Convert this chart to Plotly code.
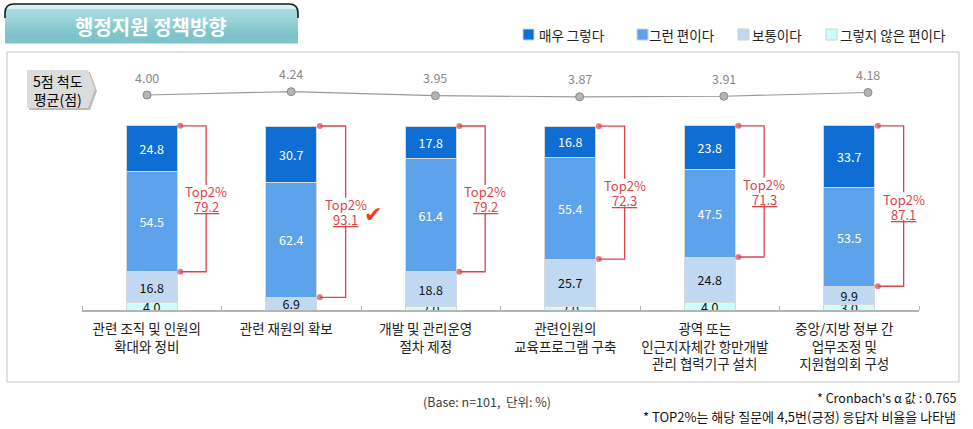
import plotly.graph_objects as go

# ---------------- data ----------------
categories = ["관련 조직 및 인원의<br>확대와 정비", "관련 재원의 확보", "개발 및 관리운영<br>절차 제정",
              "관련인원의<br>교육프로그램 구축", "광역 또는<br>인근지자체간 항만개발<br>관리 협력기구 설치",
              "중앙/지방 정부 간<br>업무조정 및<br>지원협의회 구성"]
series_names = ["매우 그렇다", "그런 편이다", "보통이다", "그렇지 않은 편이다"]
very_yes = [24.8, 30.7, 17.8, 16.8, 23.8, 33.7]
yes = [54.5, 62.4, 61.4, 55.4, 47.5, 53.5]
neutral = [16.8, 6.9, 18.8, 25.7, 24.8, 9.9]
no = [4.0, None, 2.0, 2.0, 4.0, 3.0]
top2 = [79.2, 93.1, 79.2, 72.3, 71.3, 87.1]
means = [4.00, 4.24, 3.95, 3.87, 3.91, 4.18]
title_text = "행정지원 정책방향"
scale_label = "5점 척도<br>평균(점)"
base_note = "(Base: n=101,  단위: %)"
note1 = "* Cronbach's α 값 : 0.765"
note2 = "* TOP2%는 해당 질문에 4,5번(긍정) 응답자 비율을 나타냄"

# ---------------- styles ----------------
FONT = "Noto Sans CJK KR"
colors = ["#0e6ed3", "#5ca3eb", "#c0d8f2", "#ccfefe"]
text_colors = ["white", "white", "#111111", "#111111"]
RED = "#d9454d"
W, H = 973, 429
L, R, T, B = 82, 54, 52, 119
PW, PH = W - L - R, H - T - B


def px(x):
    return (x - L) / PW


def py(y):
    return (H - B - y) / PH


def note(x, y, text, size, color, xanchor="center", bold=False):
    return dict(x=px(x), y=py(y), xref="paper", yref="paper", xanchor=xanchor, yanchor="middle",
                text=f"<b>{text}</b>" if bold else text, showarrow=False,
                font=dict(size=size, color=color, family=FONT))


xs = list(range(len(categories)))
fig = go.Figure()

# stacked bars (bottom to top)
stack = [(series_names[3], no, 3), (series_names[2], neutral, 2),
         (series_names[1], yes, 1), (series_names[0], very_yes, 0)]
for name, vals, ci in stack:
    fig.add_trace(go.Bar(
        x=xs, y=vals, name=name, width=0.366,
        marker=dict(color=colors[ci], line=dict(color="#d8d8d8", width=1)),
        text=[None if v is None else f"{v:.1f}" for v in vals],
        textposition="inside", insidetextanchor="middle", textangle=0,
        insidetextfont=dict(color=text_colors[ci], size=12.5, family=FONT),
        showlegend=False, hoverinfo="skip"))

# Top2 brackets
totals = [sum(v for v in col if v is not None) for col in zip(very_yes, yes, neutral, no)]
shapes = []
annotations = []
for i in xs:
    top = totals[i]
    bot = top - (very_yes[i] + yes[i])
    mid = (top + bot) / 2
    fig.add_trace(go.Scatter(
        x=[i + 0.205, i + 0.39, i + 0.39, i + 0.205], y=[top, top, bot, bot],
        mode="lines+markers", line=dict(color=RED, width=1.3),
        marker=dict(color=RED, size=[6, 0, 0, 6], line=dict(width=0)),
        showlegend=False, hoverinfo="skip"))
    # white gap behind the Top2 label
    shapes.append(dict(type="rect", xref="x", yref="y", x0=i + 0.37, x1=i + 0.41,
                       y0=mid - 7.5, y1=mid + 7.5, fillcolor="white", line=dict(width=0)))
    annotations.append(dict(x=i + 0.39, y=mid, xref="x", yref="y", yshift=7, yanchor="middle",
                            text="Top2%", showarrow=False,
                            font=dict(size=13, color=RED, family=FONT)))
    annotations.append(dict(x=i + 0.39, y=mid, xref="x", yref="y", yshift=-8, yanchor="middle",
                            text=f"{top2[i]:.1f}", showarrow=False,
                            font=dict(size=13, color=RED, family=FONT, lineposition="under")))
    if top2[i] == max(top2):
        annotations.append(dict(x=i + 0.39, y=mid, xref="x", yref="y", xshift=27, yshift=-3,
                                text="✔", showarrow=False,
                                font=dict(size=22, color="#ff3a1a", family="DejaVu Sans")))

# mean line (separate overlay axes)
fig.add_trace(go.Scatter(
    x=xs, y=means, xaxis="x2", yaxis="y2", mode="lines+markers",
    line=dict(color="#9a9a9a", width=1.2),
    marker=dict(color="#b4b4b4", size=8, line=dict(color="#8a8a8a", width=1)),
    showlegend=False, hoverinfo="skip"))

for i, m in zip(xs, means):
    annotations.append(dict(x=i, y=m, xref="x2", yref="y2", yshift=18, text=f"{m:.2f}",
                            showarrow=False, font=dict(size=12.5, color="#8a8a8a", family=FONT)))

# title & labels
annotations.append(note(151, 26, title_text, 20, "white", bold=True))
annotations.append(note(58, 90, scale_label, 14, "#000000"))
annotations.append(note(421, 401, base_note, 12.5, "#404040", xanchor="left"))
annotations.append(note(958, 397, note1, 12.5, "#111111", xanchor="right"))
annotations.append(note(958, 416, note2, 13, "#111111", xanchor="right"))

# legend (manual)
legend_sq_x = [523, 637, 738, 826]
legend_tx_x = [537, 647, 750, 838]
for k in range(4):
    shapes.append(dict(type="rect", xref="paper", yref="paper",
                       x0=px(legend_sq_x[k]), x1=px(legend_sq_x[k] + 11), y0=py(40), y1=py(29),
                       fillcolor=colors[k], line=dict(color="#d0d0d0", width=1)))
    annotations.append(note(legend_tx_x[k], 35, series_names[k], 13.5, "#222222", xanchor="left"))

# panel border
shapes.append(dict(type="rect", xref="paper", yref="paper", x0=px(7), x1=px(959), y0=py(382), y1=py(52),
                   line=dict(color="#c4c4c4", width=1), fillcolor="rgba(0,0,0,0)", layer="below"))


# title bar gradient
def lerp(c1, c2, t):
    a = [int(c1[i:i + 2], 16) for i in (1, 3, 5)]
    b = [int(c2[i:i + 2], 16) for i in (1, 3, 5)]
    return "#" + "".join(f"{int(round(a[j] + (b[j] - a[j]) * t)):02x}" for j in range(3))


tb_x0, tb_x1, tb_y0, tb_y1 = 5, 298, 4, 43
rp = 9
path = (f"M {px(tb_x0)},{py(tb_y1)} L {px(tb_x0)},{py(tb_y0 + rp)} "
        f"Q {px(tb_x0)},{py(tb_y0)} {px(tb_x0 + rp)},{py(tb_y0)} "
        f"L {px(tb_x1 - rp)},{py(tb_y0)} Q {px(tb_x1)},{py(tb_y0)} {px(tb_x1)},{py(tb_y0 + rp)} "
        f"L {px(tb_x1)},{py(tb_y1)} Z")
shapes.append(dict(type="path", xref="paper", yref="paper", path=path, fillcolor="#d6f0f3",
                   line=dict(width=0), layer="below"))
nb = 14
y_start = tb_y0 + 5
band_h = (tb_y1 - y_start) / nb
for k in range(nb):
    t = k / (nb - 1)
    col = lerp("#aadde2", "#7cc3c9", min(1, t * 1.3))
    shapes.append(dict(type="rect", xref="paper", yref="paper",
                       x0=px(tb_x0 + (0 if k else 1)), x1=px(tb_x1 - (0 if k else 1)),
                       y0=py(y_start + (k + 1) * band_h + 0.5), y1=py(y_start + k * band_h),
                       fillcolor=col, line=dict(width=0), layer="below"))
edge = (f"M {px(tb_x0)},{py(tb_y0 + 14)} L {px(tb_x0)},{py(tb_y0 + rp)} "
        f"Q {px(tb_x0)},{py(tb_y0)} {px(tb_x0 + rp)},{py(tb_y0)} "
        f"L {px(tb_x1 - rp)},{py(tb_y0)} Q {px(tb_x1)},{py(tb_y0)} {px(tb_x1)},{py(tb_y0 + rp)} "
        f"L {px(tb_x1)},{py(tb_y0 + 14)}")
shapes.append(dict(type="path", xref="paper", yref="paper", path=edge,
                   line=dict(color="#1a1a1a", width=1.6)))


# scale label pentagon with shadow
def pent(dx, dy):
    pts = [(27, 70), (88, 70), (95, 89), (88, 108), (27, 108)]
    return "M " + " L ".join(f"{px(a + dx)},{py(b + dy)}" for a, b in pts) + " Z"


shapes.append(dict(type="path", xref="paper", yref="paper", path=pent(2, 2), fillcolor="#bcbcbc",
                   line=dict(width=0), layer="below"))
shapes.append(dict(type="path", xref="paper", yref="paper", path=pent(0, 0), fillcolor="#dcdcdc",
                   line=dict(width=0), layer="below"))

# axes ranges
y_top = PH / 1.84
y2_lo = 4.0 - (H - B - 95) / 14.0
y2_hi = y2_lo + PH / 14.0
x2_lo = 0 - (147 - L) / 144.2
x2_hi = 5 + (L + PW - 868) / 144.2

fig.update_layout(
    width=W, height=H, margin=dict(l=L, r=R, t=T, b=B, autoexpand=False),
    paper_bgcolor="white", plot_bgcolor="rgba(0,0,0,0)",
    barmode="stack", bargap=0.6,
    uniformtext=dict(minsize=12.5, mode="show"),
    font=dict(family=FONT, size=12, color="#222222"),
    xaxis=dict(range=[-0.5, 5.5], tickvals=xs, ticktext=categories, ticks="",
               showline=True, linecolor="#b4b4b4", linewidth=1.5, showgrid=False, zeroline=False,
               tickfont=dict(size=13.5, color="#222222", family=FONT), ticklabelshift=-5,
               ticklabelstandoff=6,
               minor=dict(tickmode="array", tickvals=[x - 0.5 for x in range(7)], ticks="inside",
                          ticklen=4, tickcolor="#b4b4b4", tickwidth=1, showgrid=False)),
    yaxis=dict(range=[0, y_top], visible=False, showgrid=False, zeroline=False),
    xaxis2=dict(range=[x2_lo, x2_hi], overlaying="x", visible=False, anchor="y2"),
    yaxis2=dict(range=[y2_lo, y2_hi], overlaying="y", visible=False, anchor="x2"),
    shapes=shapes, annotations=annotations,
)

fig.write_html("out.html")
